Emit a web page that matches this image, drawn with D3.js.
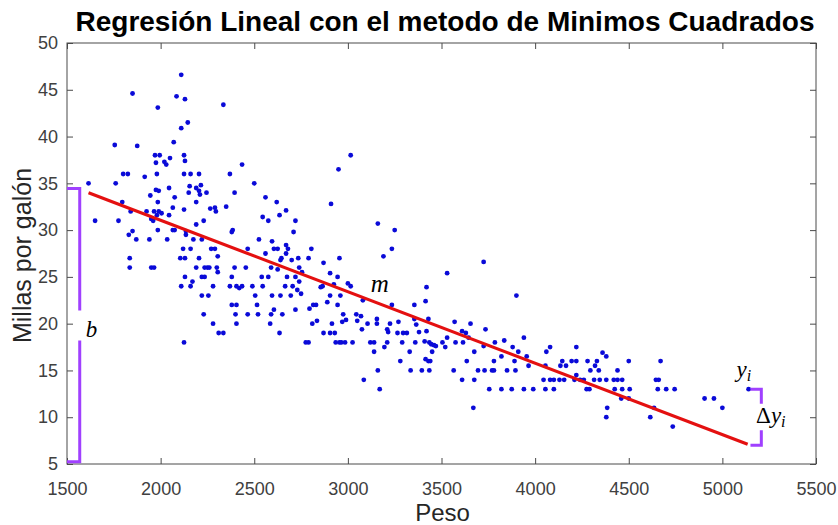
<!DOCTYPE html>
<html>
<head>
<meta charset="utf-8">
<script src="https://cdn.jsdelivr.net/npm/d3@7"></script>
<style>
  body { margin: 0; background: #ffffff; }
  svg text { font-family: "Liberation Sans", Arial, sans-serif; }
</style>
</head>
<body>
<svg id="chart" width="838" height="525"></svg>
<script>
// Car weight (lb) and fuel economy (miles per gallon)
const weight = [
  2110,1850,2085,2130,2335,1985,2145,2110,2070,1755,1875,1970,1995,2125,2050,2020,2030,1975,2130,2435,
  1800,1825,1980,1915,2125,2160,2205,2370,1615,1760,2045,2155,2190,2215,2205,2245,1975,1990,2395,1945,
  2075,2150,2210,1795,1985,2190,2350,2265,2290,2295,1840,1925,1965,1990,2005,2045,1980,2065,2125,1950,
  1960,1650,1775,2230,2190,1985,2065,2075,2135,2385,2380,1850,1830,2135,1870,1940,2035,2175,2220,2120,
  2160,2270,2290,2465,2305,2105,2130,2205,1835,1835,1950,1965,2190,2235,2250,2260,2300,2395,2455,2305,
  2220,2235,2130,2380,2170,2110,2160,2280,2370,2405,2420,2435,2220,2255,2380,2405,2230,2400,2465,2280,
  2405,2310,2335,2125,
  3015,2950,2500,2560,2620,2670,2635,2545,2575,2720,2910,3160,3250,2710,2525,2595,2670,2605,2625,2680,
  3235,2560,2670,2805,3190,2645,2640,2700,2735,2790,2955,2590,2625,2870,2740,2755,2720,2540,2575,2675,
  2905,2945,2740,2865,3000,3015,2925,2490,2545,2665,2705,2855,2730,2750,2505,2595,2640,2695,2905,2960,
  3080,2890,2815,2830,2945,3235,3355,2515,2795,2605,2720,2520,2590,2650,2975,3045,3070,2970,2835,2810,
  2915,2990,3050,3105,3155,3155,3225,3270,3355,2585,3210,3215,2635,2870,2905,2930,3075,3265,3295,3315,
  2775,2790,2935,2955,2965,2985,3025,3120,3140,3210,3290,3360,3195,3140,3330,3280,3160,3335,3085,3170,
  3725,3530,3420,3900,3415,3430,3365,3420,3380,3570,3655,3610,3630,3735,3645,3530,3505,3520,3410,3435,
  3445,3460,3470,3575,3615,3785,3835,3940,3725,3880,3910,3675,3820,3450,3415,3430,3440,3635,3780,3890,
  3955,4060,4080,4220,4145,4165,4135,4195,4220,4280,3965,4055,4220,3395,3435,3565,3695,3730,3770,3780,
  3850,3895,4295,3610,3675,4045,4080,4100,4130,4155,4210,4240,4260,3755,3820,3875,3940,3990,4055,4100,
  4275,4290,3670,
  4360,4380,4500,4670,4330,4320,4340,4440,4315,4345,4380,4420,4440,4465,4645,4660,4425,4465,4505,4655,
  4700,4745,4460,4500,4905,4955,5000,4385,4635,4380,4615,4735,5140
];
const mpg = [
  46.6,44.6,44.3,44,43.4,43.1,41.5,40.9,39.4,39.1,39,38,38,38,37.7,37.3,37,37.2,37.4,37,
  36,36,36,35.7,36,36,36,36,35,35,34.5,34.7,34.5,34.8,34.2,34,34.3,34.2,34,33.7,
  33.5,34,33.8,33,33,33,32.5,32.3,32.4,32,32,32,32,32,31.8,31.6,31.6,32.4,32.2,31.2,
  31,31,31,31,30.6,30,30,30,29.9,30,29.8,29.9,29.5,29.5,29,29,29,29,29,28,
  28,28,28,28,27.2,27,27,27,27,26,26,26,26,26,26,26,26,26,26,25.5,
  25,25,25,25,24.5,24,24,24,24,24,23.8,24,23,23,22,22,21,21,21,20,
  20,19,19,18,
  38,36.5,35,33.5,33,32.1,31.6,31.4,31,31,32.8,30.7,30,29.8,29,28.8,28.4,28,28,28,
  28,27.5,27.5,28,27.2,27,26.8,26.8,27,27,27,26,25.8,26.5,26,25.5,25,25,25,25,
  25.4,25,24.5,24,24.3,24,24.2,24,24,24,24,23.9,23.6,23.2,23,23,23,23,23,23,
  22.5,22.3,22,22,22,22,22,22,21.6,21.5,21.5,21,21,21,21,21,20.8,20.2,20.3,20,
  20,20.4,20.3,20,20.5,20,20,20.2,20.5,20,19.4,19.1,19,19,19,19,19.4,19,19,19,
  18,18,18,18,18,18,18,18,18,18,18,18,17.5,17,17,16,15,15,14,13,
  26.6,25.4,23.9,23,22.4,20.5,19.9,19.2,19.1,20.2,20,19.2,19,19.4,18.5,18.5,18,17.5,18.1,18,
  17.8,17.7,17.6,18,18,18,18.2,18.5,17.6,17.5,17,17,16.5,17,16.2,16,16,16,16,16,
  16.5,17,17.5,17.5,16,15.5,15.5,16,16,16,15.5,15.5,14.5,15,15,15,15,15,15,15,
  15,15,15,14,14,14,14,14,14,14,14,14,14,13,13,13,13,13,13,13,
  13,13,11,
  16.9,16.5,16,16,16,15.5,15,15,14,14,14,14,14,14,14,14,13,13,13,13,
  13,13,12,12,12,12,11,11,11,10,10,9,13
];

// Least-squares fit drawn between the lightest and heaviest cars
const fitWeight = [1615, 5135];
const fitMpg = [34.0, 7.1];

const xTicks = [1500, 2000, 2500, 3000, 3500, 4000, 4500, 5000, 5500];
const yTicks = [5, 10, 15, 20, 25, 30, 35, 40, 45, 50];

const titleText = "Regresión Lineal con el metodo de Minimos Cuadrados";
const xLabel = "Peso";
const yLabel = "Millas por galón";

// Bracket annotations in data units: intercept b (left) and residual Δy_i (right)
const bBracket = { x0: 1500, x1: 1568, top: 34.45, gapTop: 21.4, gapBottom: 18.2, bottom: 5.25 };
const dyBracket = { x0: 5150, x1: 5208, top: 13.0, gapTop: 11.45, gapBottom: 8.6, bottom: 7.0 };

const svg = d3.select("#chart");
const x = d3.scaleLinear().domain([1500, 5500]).range([67, 816]);
const y = d3.scaleLinear().domain([5, 50]).range([464, 43]);

const axisColor = "#4a4a4a";
const purple = "#a040ff";
const tickFont = "'Liberation Sans Narrow', 'Arial Narrow', 'Liberation Sans', sans-serif";

// Plot frame
svg.append("rect")
  .attr("x", x(1500)).attr("y", y(50))
  .attr("width", x(5500) - x(1500)).attr("height", y(5) - y(50))
  .attr("fill", "none").attr("stroke", axisColor).attr("stroke-width", 1);

function styleAxis(g) {
  g.select(".domain").remove();
  g.selectAll(".tick line").attr("stroke", axisColor);
  g.selectAll(".tick text")
    .attr("fill", "#404040")
    .style("font-size", "18px")
    .style("font-family", tickFont);
}

svg.append("g").attr("transform", `translate(0,${y(5)})`)
  .call(d3.axisBottom(x).tickValues(xTicks).tickFormat(d3.format("d"))
    .tickSizeInner(-6).tickSizeOuter(0).tickPadding(18))
  .call(styleAxis);

svg.append("g").attr("transform", `translate(${x(1500)},0)`)
  .call(d3.axisLeft(y).tickValues(yTicks).tickFormat(d3.format("d"))
    .tickSizeInner(-6).tickSizeOuter(0).tickPadding(9))
  .call(styleAxis);

svg.append("g").attr("transform", `translate(0,${y(50)})`)
  .call(d3.axisTop(x).tickValues(xTicks).tickFormat("").tickSizeInner(-6).tickSizeOuter(0))
  .call(styleAxis);

svg.append("g").attr("transform", `translate(${x(5500)},0)`)
  .call(d3.axisRight(y).tickValues(yTicks).tickFormat("").tickSizeInner(-6).tickSizeOuter(0))
  .call(styleAxis);

// Scatter points
const cars = weight.map((w, i) => ({ w, m: mpg[i] }));
svg.append("g").selectAll("circle")
  .data(cars).join("circle")
  .attr("cx", d => x(d.w)).attr("cy", d => y(d.m))
  .attr("r", 2.4).attr("fill", "#0a0ad8");

// Regression line
svg.append("line")
  .attr("x1", x(fitWeight[0])).attr("y1", y(fitMpg[0]))
  .attr("x2", x(fitWeight[1])).attr("y2", y(fitMpg[1]))
  .attr("stroke", "#e41010").attr("stroke-width", 3.2).attr("stroke-linecap", "butt");

// Brackets
function bracket(b) {
  const p1 = d3.path();
  p1.moveTo(x(b.x0), y(b.top)); p1.lineTo(x(b.x1), y(b.top)); p1.lineTo(x(b.x1), y(b.gapTop));
  p1.moveTo(x(b.x1), y(b.gapBottom)); p1.lineTo(x(b.x1), y(b.bottom)); p1.lineTo(x(b.x0), y(b.bottom));
  svg.append("path").attr("d", p1.toString())
    .attr("fill", "none").attr("stroke", purple).attr("stroke-width", 3)
    .attr("stroke-linejoin", "miter");
}
bracket(bBracket);
bracket(dyBracket);

// Math labels
const mathFont = "'Liberation Serif', 'DejaVu Serif', serif";
svg.append("text").attr("x", x(1600)).attr("y", y(19.3) + 7)
  .style("font-family", mathFont).style("font-style", "italic").style("font-size", "23px")
  .text("b");
svg.append("text").attr("x", x(3170)).attr("y", y(23.4))
  .attr("text-anchor", "middle")
  .style("font-family", mathFont).style("font-style", "italic").style("font-size", "25px")
  .text("m");
const yi = svg.append("text").attr("x", x(5140) - 12).attr("y", y(14.3))
  .style("font-family", mathFont).style("font-size", "23px");
yi.append("tspan").style("font-style", "italic").text("y");
yi.append("tspan").style("font-style", "italic").style("font-size", "16px").attr("dy", 4).text("i");
const dyi = svg.append("text").attr("x", x(5180)).attr("y", y(9.4))
  .style("font-family", mathFont).style("font-size", "23px");
dyi.append("tspan").text("Δ");
dyi.append("tspan").style("font-style", "italic").text("y");
dyi.append("tspan").style("font-style", "italic").style("font-size", "16px").attr("dy", 4).text("i");

// Title and axis labels
svg.append("text").attr("x", 445).attr("y", 31)
  .attr("text-anchor", "middle")
  .style("font-weight", "bold").style("font-size", "28px").attr("fill", "#000")
  .text(titleText);

svg.append("text").attr("x", (x(1500) + x(5500)) / 2 + 1).attr("y", 521)
  .attr("text-anchor", "middle")
  .style("font-size", "24px").attr("fill", "#262626")
  .text(xLabel);

svg.append("text")
  .attr("transform", `translate(31,${(y(5) + y(50)) / 2 + 2}) rotate(-90)`)
  .attr("text-anchor", "middle")
  .style("font-size", "25px").attr("fill", "#262626")
  .text(yLabel);
</script>
</body>
</html>
